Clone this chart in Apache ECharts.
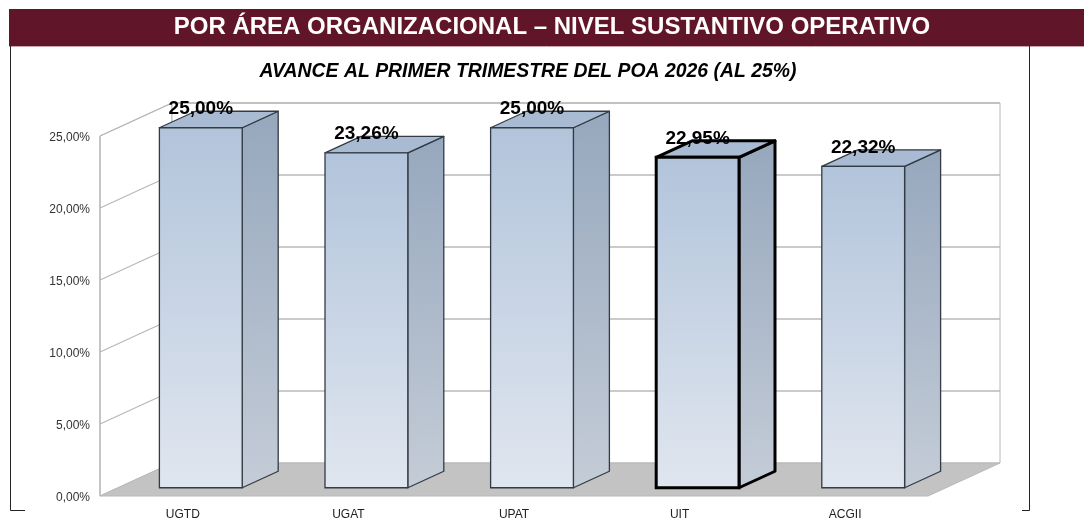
<!DOCTYPE html>
<html>
<head>
<meta charset="utf-8">
<script src="https://cdn.jsdelivr.net/npm/echarts@6/dist/echarts.min.js"></script>
<style>
html,body{margin:0;padding:0;background:#fff;}
#chart{width:1084px;height:520px;}
</style>
</head>
<body>
<div id="chart"></div>
<script>
// ---- data ----
const categories = ['UGTD', 'UGAT', 'UPAT', 'UIT', 'ACGII'];
const values = [25.00, 23.26, 25.00, 22.95, 22.32];
const yTicks = [0, 5, 10, 15, 20, 25];
const titleText = 'POR ÁREA ORGANIZACIONAL – NIVEL SUSTANTIVO OPERATIVO';
const subtitleText = 'AVANCE AL PRIMER TRIMESTRE DEL POA 2026 (AL 25%)';
const selectedCategory = 'UIT';

// ---- 3D view settings ----
const DEPTH_X = 72, DEPTH_Y = -33;   // full depth offset of the plot box
const BAR_FRONT = 0.25, BAR_BACK = 0.75; // bar depth position (fraction)
const FONT = 'Liberation Sans, Arial, sans-serif';
const fmt = v => v.toFixed(2).replace('.', ',') + '%';

const chart = echarts.init(document.getElementById('chart'), null, {renderer: 'canvas'});

function renderWalls(params, api) {
  const cs = params.coordSys;
  const x0 = cs.x, x1 = cs.x + cs.width;
  const children = [];
  const gridColor = '#b8b8b8';
  if (params.dataIndex === 0) {
    const yb = api.coord([0, 0])[1];
    const yt = api.coord([0, yTicks[yTicks.length - 1]])[1];
    children.push({type: 'polygon', shape: {points: [[x0, yb], [x0, yt], [x0 + DEPTH_X, yt + DEPTH_Y], [x0 + DEPTH_X, yb + DEPTH_Y]]},
      style: {fill: '#ffffff', stroke: gridColor, lineWidth: 1}});
    children.push({type: 'rect', shape: {x: x0 + DEPTH_X, y: yt + DEPTH_Y, width: x1 - x0, height: yb - yt},
      style: {fill: '#ffffff', stroke: gridColor, lineWidth: 1}});
    children.push({type: 'polygon', shape: {points: [[x0, yb], [x1, yb], [x1 + DEPTH_X, yb + DEPTH_Y], [x0 + DEPTH_X, yb + DEPTH_Y]]},
      style: {fill: '#c3c3c3', stroke: '#b8b8b8', lineWidth: 1}});
  }
  const v = api.value(0);
  if (v > 0) {
    const y = api.coord([0, v])[1];
    children.push({type: 'line', shape: {x1: x0, y1: y, x2: x0 + DEPTH_X, y2: y + DEPTH_Y}, style: {stroke: gridColor, lineWidth: 1.3}});
    children.push({type: 'line', shape: {x1: x0 + DEPTH_X, y1: y + DEPTH_Y, x2: x1 + DEPTH_X, y2: y + DEPTH_Y}, style: {stroke: gridColor, lineWidth: 1.3}});
  }
  if (params.dataIndex === 0) {
    const yb = api.coord([0, 0])[1];
    const yt = api.coord([0, yTicks[yTicks.length - 1]])[1];
    children.push({type: 'line', shape: {x1: x0, y1: yb, x2: x0, y2: yt}, style: {stroke: gridColor, lineWidth: 1.3}});
  }
  return {type: 'group', children};
}

function renderBar(params, api) {
  const idx = api.value(0);
  const val = api.value(1);
  const bw = api.size([1, 0])[0];
  const base = api.coord([idx, 0]);
  const top = api.coord([idx, val]);
  const fx = DEPTH_X * BAR_FRONT, fy = DEPTH_Y * BAR_FRONT;
  const dx = DEPTH_X * (BAR_BACK - BAR_FRONT), dy = DEPTH_Y * (BAR_BACK - BAR_FRONT);
  const w = bw * 0.5;
  const xl = base[0] - w / 2 + fx, xr = xl + w;
  const yb = base[1] + fy, yt = top[1] + fy;
  const sel = categories[idx] === selectedCategory;
  const stroke = sel ? '#000000' : '#333b44';
  const lw = sel ? 3 : 1.3;
  return {type: 'group', children: [
    {type: 'polygon', shape: {points: [[xr, yt], [xr + dx, yt + dy], [xr + dx, yb + dy], [xr, yb]]},
      style: {fill: {type: 'linear', x: 0, y: 0, x2: 0.3, y2: 1, colorStops: [{offset: 0, color: '#96a7bd'}, {offset: 1, color: '#c4ccd7'}]}, stroke, lineWidth: lw, lineJoin: 'round'}},
    {type: 'polygon', shape: {points: [[xl, yt], [xr, yt], [xr + dx, yt + dy], [xl + dx, yt + dy]]},
      style: {fill: '#a9bbd2', stroke, lineWidth: lw, lineJoin: 'round'}},
    {type: 'rect', shape: {x: xl, y: yt, width: w, height: yb - yt},
      style: {fill: {type: 'linear', x: 0, y: 0, x2: 0, y2: 1, colorStops: [{offset: 0, color: '#b2c4db'}, {offset: 1, color: '#e0e6ef'}]}, stroke, lineWidth: lw}},
    {type: 'text', x: (xl + xr) / 2, y: yt - 19,
      style: {text: fmt(val), fill: '#000000', font: 'bold 19px ' + FONT, align: 'center', verticalAlign: 'middle'}}
  ]};
}

const option = {
  backgroundColor: '#ffffff',
  animation: false,
  title: [
    {text: titleText, left: 552, top: 15, textAlign: 'center', padding: 0,
      textStyle: {color: '#ffffff', fontSize: 24, fontWeight: 'bold', fontFamily: FONT}},
    {text: subtitleText, left: 528, top: 62, textAlign: 'center', padding: 0,
      textStyle: {color: '#000000', fontSize: 19.4, fontWeight: 'bold', fontStyle: 'italic', fontFamily: FONT}}
  ],
  graphic: [
    {type: 'rect', z: -10, shape: {x: 9, y: 9, width: 1075, height: 37}, style: {fill: '#601628'}},
    {type: 'line', z: -10, shape: {x1: 9, y1: 46.5, x2: 1084, y2: 46.5}, style: {stroke: '#c9a4ac', lineWidth: 1}},
    {type: 'polyline', z: -10, shape: {points: [[10.5, 46], [10.5, 510.5], [25, 510.5]]}, style: {stroke: '#222', lineWidth: 1, fill: null}},
    {type: 'polyline', z: -10, shape: {points: [[1029.5, 46], [1029.5, 510.5], [1022, 510.5]]}, style: {stroke: '#222', lineWidth: 1, fill: null}}
  ],
  grid: {left: 100, top: 136, width: 828, height: 360, containLabel: false, outerBoundsMode: 'none'},
  xAxis: {
    type: 'category', data: categories,
    axisLine: {show: false}, axisTick: {show: false}, splitLine: {show: false},
    axisLabel: {margin: 13, color: '#222', fontSize: 12, fontFamily: FONT}
  },
  yAxis: {
    type: 'value', min: 0, max: 25, interval: 5,
    axisLine: {show: false}, axisTick: {show: false}, splitLine: {show: false},
    axisLabel: {margin: 10, color: '#333', fontSize: 12, fontFamily: FONT,
      formatter: v => '{a|' + fmt(v) + '}',
      rich: {a: {color: '#333', fontSize: 12, fontFamily: FONT, padding: [4, 0, 0, 0]}}}
  },
  series: [
    {type: 'custom', name: 'walls', z: 1, silent: true, renderItem: renderWalls,
      data: yTicks.map(v => [v]), encode: {y: 0}},
    {type: 'custom', name: 'Avance', z: 5, renderItem: renderBar,
      data: values.map((v, i) => [i, v]), encode: {x: 0, y: 1}}
  ]
};
chart.setOption(option);
</script>
</body>
</html>
